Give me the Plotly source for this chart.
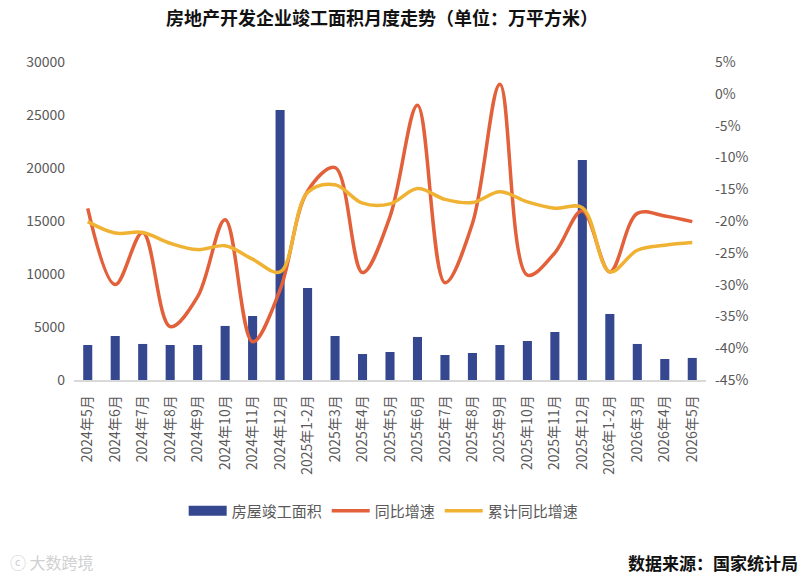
import plotly.graph_objects as go

categories = ["2024年5月", "2024年6月", "2024年7月", "2024年8月", "2024年9月", "2024年10月",
              "2024年11月", "2024年12月", "2025年1-2月", "2025年3月", "2025年4月", "2025年5月",
              "2025年6月", "2025年7月", "2025年8月", "2025年9月", "2025年10月", "2025年11月",
              "2025年12月", "2026年1-2月", "2026年3月", "2026年4月", "2026年5月"]

completed_area = [3300, 4150, 3400, 3300, 3300, 5100, 6040, 25470, 8680, 4150, 2450, 2640,
                  4060, 2360, 2550, 3300, 3680, 4530, 20750, 6230, 3400, 1980, 2080]

yoy_growth = [-18.0, -30.0, -21.8, -36.6, -31.9, -19.8, -39.0, -30.8, -15.3, -11.6, -28.1, -19.3,
              -1.8, -29.7, -20.4, 1.5, -28.5, -25.0, -18.4, -28.0, -18.8, -19.2, -20.1]

cum_growth = [-20.1, -21.9, -21.8, -23.5, -24.5, -23.9, -26.0, -28.0, -15.5, -14.3, -17.2, -17.3,
              -14.9, -16.6, -17.1, -15.4, -17.0, -18.0, -17.9, -28.0, -24.6, -23.8, -23.4]

left_ticks = [0, 5000, 10000, 15000, 20000, 25000, 30000]
right_ticks = [5, 0, -5, -10, -15, -20, -25, -30, -35, -40, -45]
right_tick_text = [f"{v}%" for v in right_ticks]

FONT = "Noto Sans CJK SC, Noto Sans, sans-serif"
GRAY = "#595959"
BAR_COLOR = "#34478F"

fig = go.Figure()
fig.add_trace(go.Bar(
    x=categories, y=completed_area, name="房屋竣工面积", showlegend=False,
    marker=dict(color=BAR_COLOR, line=dict(width=0)), width=0.33, yaxis="y"))
# legend-only swatch imitating the wide rectangle of the reference legend
fig.add_trace(go.Scatter(
    x=[None], y=[None], name="房屋竣工面积", mode="lines",
    line=dict(color=BAR_COLOR, width=10), yaxis="y"))
fig.add_trace(go.Scatter(
    x=categories, y=yoy_growth, name="同比增速", mode="lines",
    line=dict(color="#E2603A", width=3.5, shape="spline", smoothing=1.0), yaxis="y2"))
fig.add_trace(go.Scatter(
    x=categories, y=cum_growth, name="累计同比增速", mode="lines",
    line=dict(color="#F0B233", width=3.5, shape="spline", smoothing=1.0), yaxis="y2"))

fig.update_layout(
    width=804, height=579,
    margin=dict(l=74, r=98, t=62, b=199),
    paper_bgcolor="white", plot_bgcolor="white",
    font=dict(family=FONT, color=GRAY, size=13),
    title=dict(text="<b>房地产开发企业竣工面积月度走势（单位：万平方米）</b>",
               x=382 / 804, xanchor="center", y=1 - 19 / 579, yanchor="middle",
               font=dict(family=FONT, size=18, color="#111111")),
    showlegend=True,
    legend=dict(orientation="h", x=0.49, xanchor="center", y=-0.412, yanchor="middle",
                font=dict(size=15, color=GRAY), itemwidth=38, traceorder="normal",
                bgcolor="rgba(0,0,0,0)"),
    xaxis=dict(type="category", tickangle=-90, showgrid=False, showline=True,
               linecolor="#D9D9D9", linewidth=1.5, ticks="", ticklabelstandoff=8,
               tickfont=dict(size=14, color=GRAY)),
    yaxis=dict(range=[0, 30000], tickvals=left_ticks, ticktext=[str(v) for v in left_ticks],
               showgrid=False, zeroline=False, showline=False, ticks="", ticklabelstandoff=8,
               tickfont=dict(size=14, color=GRAY)),
    yaxis2=dict(range=[-45, 5], overlaying="y", side="right", tickvals=right_ticks,
                ticktext=right_tick_text, showgrid=False, zeroline=False, showline=False,
                ticks="", ticklabelstandoff=8, tickfont=dict(size=14, color=GRAY)),
)

fig.add_annotation(text="<b>数据来源：国家统计局</b>", xref="paper", yref="paper",
                   x=(800 - 74) / 632, xanchor="right", y=(380 - 562) / 318, yanchor="middle",
                   showarrow=False, font=dict(family=FONT, size=17, color="#111111"))
fig.add_annotation(text="ⓒ 大数跨境", xref="paper", yref="paper",
                   x=(8 - 74) / 632, xanchor="left", y=(380 - 562) / 318, yanchor="middle",
                   showarrow=False, font=dict(family=FONT, size=16, color="#D0D0D0"))

fig.write_html("out.html")
